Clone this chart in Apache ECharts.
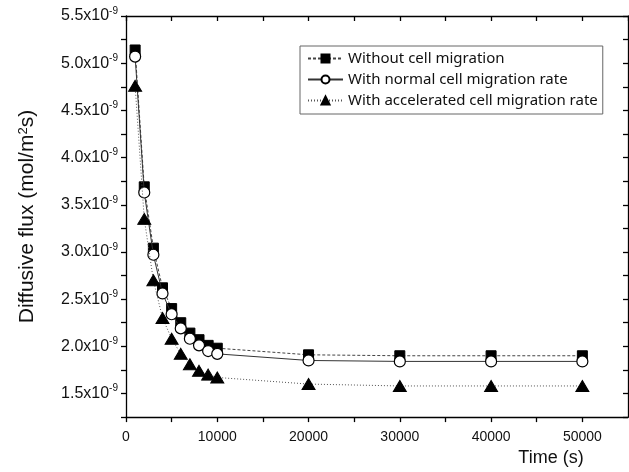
<!DOCTYPE html>
<html><head><meta charset="utf-8">
<script src="https://cdn.jsdelivr.net/npm/echarts@6/dist/echarts.min.js"></script>
<style>html,body{margin:0;padding:0;background:#fff}#c{width:629px;height:472px}</style>
</head><body><div id="c"></div>
<script>
const times = [1000,2000,3000,4000,5000,6000,7000,8000,9000,10000,20000,30000,40000,50000];
const withoutMigration = [5.14,3.69,3.04,2.62,2.40,2.25,2.14,2.07,2.01,1.98,1.91,1.90,1.90,1.90];
const normalMigration = [5.07,3.63,2.97,2.56,2.34,2.19,2.08,2.01,1.95,1.92,1.85,1.84,1.84,1.84];
const acceleratedMigration = [4.76,3.35,2.70,2.30,2.08,1.92,1.81,1.74,1.70,1.67,1.60,1.58,1.58,1.58];
const seriesNames = ['Without cell migration','With normal cell migration rate','With accelerated cell migration rate'];
const xTickLabels = [0,10000,20000,30000,40000,50000];
const yTickLabels = [1.5,2.0,2.5,3.0,3.5,4.0,4.5,5.0,5.5];

const FONT = 'Liberation Sans, Arial, sans-serif';
const pairs = arr => times.map((t,i)=>[t,arr[i]]);
const near = (list,v) => list.some(x=>Math.abs(x-v)<1e-6);

const chart = echarts.init(document.getElementById('c'), null, {renderer:'canvas'});
const axisLine = {show:true, onZero:false, lineStyle:{color:'#000', width:1.3}};
const tick = (inside)=>({show:true, inside:inside, length:5, lineStyle:{color:'#000', width:1.3}});

chart.setOption({
  animation:false,
  backgroundColor:'#fff',
  grid:{left:126, right:1, top:16, bottom:48, containLabel:false},
  legend:{
    orient:'vertical', left:300, top:46,
    padding:[5,5,6,7], itemGap:6, itemWidth:35, itemHeight:10,
    borderColor:'#666', borderWidth:1, backgroundColor:'#fff',
    textStyle:{fontFamily:'Noto Sans', fontSize:15, color:'#111', lineHeight:15},
    data:seriesNames
  },
  xAxis:[{
    type:'value', min:0, max:55000, interval:5000,
    name:'Time (s)', nameLocation:'middle', nameGap:25,
    nameTextStyle:{fontFamily:FONT, fontSize:18, color:'#111', padding:[0,0,0,348]},
    axisLine:axisLine, axisTick:tick(false), splitLine:{show:false},
    axisLabel:{fontFamily:FONT, fontSize:14, color:'#111', margin:13,
      showMaxLabel:false,
      formatter:v=> near(xTickLabels,v) ? String(v) : ''}
  },{
    type:'value', position:'top', min:0, max:55000, interval:5000,
    axisLine:axisLine, axisTick:tick(true), axisLabel:{show:false}, splitLine:{show:false}
  }],
  yAxis:[{
    type:'value', min:1.25, max:5.5, interval:0.25,
    name:'Diffusive flux (mol/m{s|2}s)', nameLocation:'middle', nameGap:88, nameRotate:90,
    nameTextStyle:{fontFamily:FONT, fontSize:21, color:'#111',
      rich:{s:{fontFamily:FONT, fontSize:13, verticalAlign:'top', lineHeight:13}}},
    axisLine:axisLine, axisTick:tick(false), splitLine:{show:false},
    axisLabel:{fontFamily:FONT, fontSize:16, color:'#111', margin:8,
      formatter:v=> near(yTickLabels,v) ? '{a|'+v.toFixed(1)+'x10}{b|-9}' : '',
      rich:{a:{fontFamily:FONT, fontSize:16, color:'#111', lineHeight:20},
            b:{fontFamily:FONT, fontSize:10, color:'#111', verticalAlign:'top', lineHeight:10}}}
  },{
    type:'value', position:'right', min:1.25, max:5.5, interval:0.25,
    axisLine:axisLine, axisTick:tick(true), axisLabel:{show:false}, splitLine:{show:false}
  }],
  series:[
    {name:seriesNames[0], type:'line', data:pairs(withoutMigration),
     symbol:'rect', symbolSize:10, z:2,
     itemStyle:{color:'#000', borderColor:'#000', borderWidth:1},
     lineStyle:{color:'#444', width:1, type:[3,2]}},
    {name:seriesNames[1], type:'line', data:pairs(normalMigration),
     symbol:'circle', symbolSize:11, z:3,
     itemStyle:{color:'#fff', borderColor:'#000', borderWidth:1.2},
     lineStyle:{color:'#333', width:1, type:'solid'}},
    {name:seriesNames[2], type:'line', data:pairs(acceleratedMigration),
     symbol:'triangle', symbolSize:[13,11], z:4,
     itemStyle:{color:'#000', borderColor:'#000', borderWidth:1},
     lineStyle:{color:'#555', width:1, type:[1,2]}}
  ]
});
</script></body></html>
